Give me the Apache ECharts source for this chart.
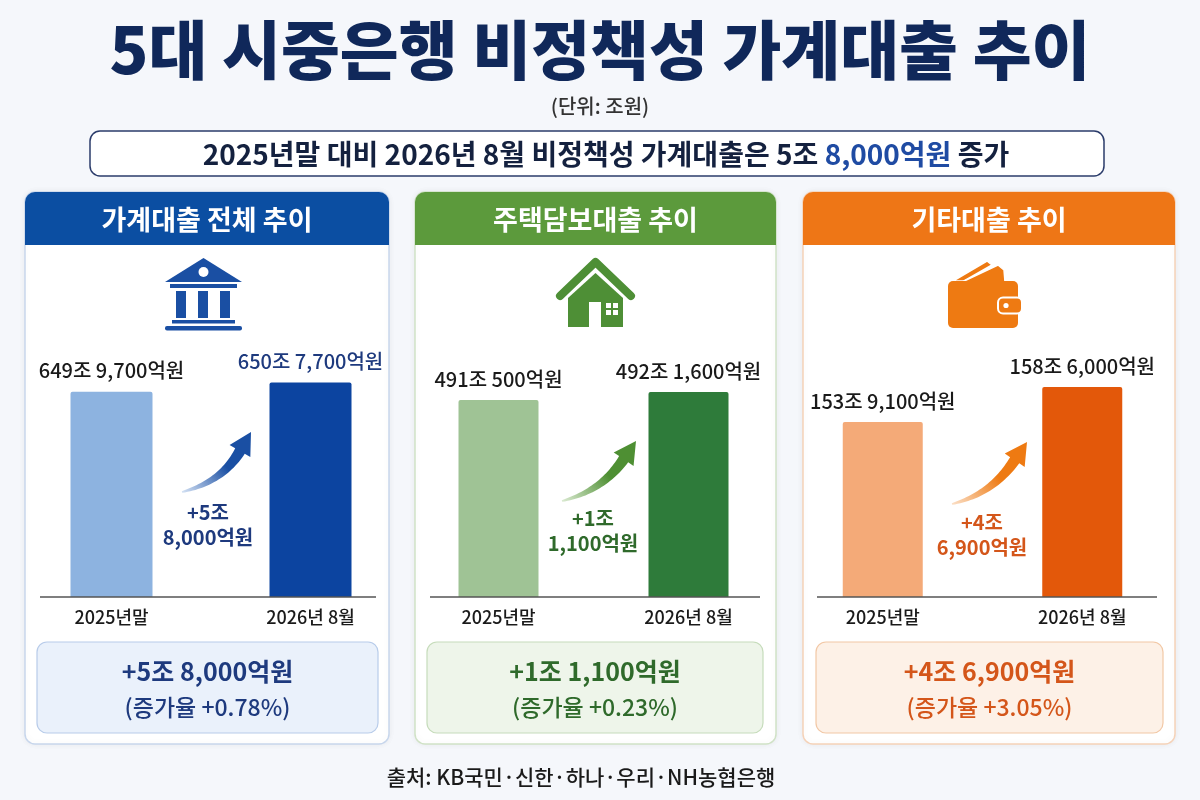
<!DOCTYPE html>
<html>
<head>
<meta charset="utf-8">
<script src="https://cdn.jsdelivr.net/npm/echarts@6/dist/echarts.min.js"></script>
<style>
html,body{margin:0;padding:0;background:#F5F7FB;}
#chart{width:1200px;height:800px;}
</style>
</head>
<body>
<div id="chart"></div>
<script>
// ---- data ----
const titleText = '5대 시중은행 비정책성 가계대출 추이';
const unitText = '(단위: 조원)';
const summaryPrefix = '2025년말 대비 2026년 8월 비정책성 가계대출은 5조 ';
const summaryHighlight = '8,000억원';
const summarySuffix = ' 증가';
const sourceText = '출처: KB국민·신한·하나·우리·NH농협은행';
const panelTitles = ['가계대출 전체 추이', '주택담보대출 추이', '기타대출 추이'];
const categories = ['2025년말', '2026년 8월'];
const prevValues = [649.97, 491.05, 153.91];
const currValues = [650.77, 492.16, 158.60];
const prevLabels = ['649조 9,700억원', '491조 500억원', '153조 9,100억원'];
const currLabels = ['650조 7,700억원', '492조 1,600억원', '158조 6,000억원'];
const changeLabels = ['+5조 8,000억원', '+1조 1,100억원', '+4조 6,900억원'];
const rateLabels = ['+0.78%', '+0.23%', '+3.05%'];

// ---- styles / layout ----
const FONT = '"Noto Sans CJK KR", "Noto Sans", sans-serif';
const themes = [
  {header:'#0B4EA2', bar1:'#8DB3E0', bar2:'#0C44A0', border:'#C7D6EC', boxFill:'#EAF1FB', boxBorder:'#B8CCEA', accent:'#1E3A7E', label2:'#1E3A7E', arrowFrom:'#D6E3F5', arrowTo:'#1A4FA3', icon:'#1A4FA3'},
  {header:'#5C9A3C', bar1:'#9FC395', bar2:'#2E7B3A', border:'#D0E2C6', boxFill:'#EEF5EA', boxBorder:'#C6DCBB', accent:'#2F6A2B', label2:'#1a1a1a', arrowFrom:'#DCEBD3', arrowTo:'#4E8F33', icon:'#4E8F36'},
  {header:'#EE7616', bar1:'#F4AA78', bar2:'#E3580A', border:'#F5D2B8', boxFill:'#FDF1E7', boxBorder:'#F2C8A6', accent:'#D4561A', label2:'#1a1a1a', arrowFrom:'#FBE0C8', arrowTo:'#EE7A12', icon:'#EE7A12'}
];
const panels = [
  {x:25, w:364, boxX:37, boxW:341, axisX1:40, axisX2:376, gridL:12, gridW:398, barW:82,
   arrow:{tail:[182,492], ctrl:[222,482], tip:[251,432]}, delta:[208,512], yMin:632, yMax:654.5},
  {x:415, w:361, boxX:427, boxW:336, axisX1:430, axisX2:760, gridL:403.5, gridW:380, barW:80,
   arrow:{tail:[562,501], ctrl:[602,491], tip:[636,441]}, delta:[593,518], yMin:463.7, yMax:499.4},
  {x:803, w:372, boxX:816, boxW:347, axisX1:817, axisX2:1157, gridL:783, gridW:399, barW:80,
   arrow:{tail:[952,504], ctrl:[992,494], tip:[1027,442]}, delta:[982,522], yMin:130.46, yMax:164.9}
];
const PANEL_TOP = 192, PANEL_H = 552, HEADER_H = 53, AXIS_Y = 597, GRID_TOP = 340;

function txt(x, y, text, font, fill, z) {
  return {type:'text', x:x, y:y, z:z||20, silent:true,
    style:{text:text, font:font, fill:fill, align:'center', verticalAlign:'middle'}};
}

function arrowPolygon(a) {
  const T = a.tail, C = a.ctrl, P = a.tip;
  const headLen = 22, headHalf = 12, w0 = 0.8, w1 = 5.5;
  let ux = P[0]-C[0], uy = P[1]-C[1];
  const ul = Math.hypot(ux, uy); ux/=ul; uy/=ul;
  const B = [P[0]-ux*headLen, P[1]-uy*headLen];
  const left = [], right = [];
  const N = 30;
  for (let i = 0; i <= N; i++) {
    const t = i/N;
    const px = (1-t)*(1-t)*T[0] + 2*(1-t)*t*C[0] + t*t*B[0];
    const py = (1-t)*(1-t)*T[1] + 2*(1-t)*t*C[1] + t*t*B[1];
    const dx = 2*(1-t)*(C[0]-T[0]) + 2*t*(B[0]-C[0]);
    const dy = 2*(1-t)*(C[1]-T[1]) + 2*t*(B[1]-C[1]);
    const dl = Math.hypot(dx, dy);
    const nx = -dy/dl, ny = dx/dl;
    const w = w0 + (w1-w0)*Math.pow(t, 0.8);
    left.push([px+nx*w, py+ny*w]);
    right.push([px-nx*w, py-ny*w]);
  }
  const nx = -uy, ny = ux;
  const pts = left.slice();
  pts.push([B[0]+nx*headHalf, B[1]+ny*headHalf]);
  pts.push([P[0], P[1]]);
  pts.push([B[0]-nx*headHalf, B[1]-ny*headHalf]);
  return pts.concat(right.reverse());
}

const graphics = [];
// title area
graphics.push(txt(600, 50, titleText, '900 64px ' + FONT, '#10285A'));
graphics.push(txt(600, 106, unitText, '500 20px ' + FONT, '#333333'));
graphics.push({type:'rect', z:1, silent:true, shape:{x:90, y:131, width:1014, height:45, r:10},
  style:{fill:'#FFFFFF', stroke:'#2B3C6B', lineWidth:1.5}});
graphics.push({type:'text', x:606, y:154, z:20, silent:true, style:{
  text:'{a|' + summaryPrefix + '}{b|' + summaryHighlight + '}{a|' + summarySuffix + '}',
  align:'center', verticalAlign:'middle',
  rich:{a:{font:'700 28px ' + FONT, fill:'#14213F'}, b:{font:'700 28px ' + FONT, fill:'#1F4BA3'}}
}});
graphics.push(txt(581, 777, sourceText, '500 21px ' + FONT, '#1a1a1a'));

panels.forEach(function (p, i) {
  const th = themes[i];
  const cx = p.x + p.w/2;
  graphics.push({type:'rect', z:0, silent:true,
    shape:{x:p.x, y:PANEL_TOP, width:p.w, height:PANEL_H, r:10},
    style:{fill:'#FFFFFF', stroke:th.border, lineWidth:1.5, shadowBlur:6, shadowColor:'rgba(0,0,0,0.06)'}});
  graphics.push({type:'rect', z:1, silent:true,
    shape:{x:p.x, y:PANEL_TOP, width:p.w, height:HEADER_H, r:[10,10,0,0]},
    style:{fill:th.header}});
  graphics.push(txt(cx, PANEL_TOP + HEADER_H/2 + 1, panelTitles[i], '700 27px ' + FONT, '#FFFFFF'));
  // axis baseline
  graphics.push({type:'line', z:5, silent:true,
    shape:{x1:p.axisX1, y1:AXIS_Y, x2:p.axisX2, y2:AXIS_Y},
    style:{stroke:'#555555', lineWidth:1.5}});
  // arrow
  graphics.push({type:'polygon', z:6, silent:true,
    shape:{points:arrowPolygon(p.arrow)},
    style:{fill:{type:'linear', x:0, y:1, x2:1, y2:0, colorStops:[
      {offset:0, color:th.arrowFrom}, {offset:0.55, color:th.arrowTo}, {offset:1, color:th.arrowTo}]}}});
  const parts = changeLabels[i].split(' ');
  graphics.push(txt(p.delta[0], p.delta[1], parts[0], '700 20px ' + FONT, th.accent));
  graphics.push(txt(p.delta[0], p.delta[1] + 25, parts[1], '700 20px ' + FONT, th.accent));
  // bottom box
  graphics.push({type:'rect', z:1, silent:true,
    shape:{x:p.boxX, y:642, width:p.boxW, height:91, r:10},
    style:{fill:th.boxFill, stroke:th.boxBorder, lineWidth:1.2}});
  const bcx = p.boxX + p.boxW/2;
  graphics.push(txt(bcx, 671, changeLabels[i], '700 25px ' + FONT, th.accent));
  graphics.push(txt(bcx, 707, '(증가율 ' + rateLabels[i] + ')', '500 23px ' + FONT, th.accent));
});

// ---- icons ----
(function () {
  const c = themes[0].icon;
  graphics.push({type:'polygon', z:3, silent:true, shape:{points:[[165,282],[203.5,258],[242,282]]}, style:{fill:c}});
  graphics.push({type:'circle', z:4, silent:true, shape:{cx:203.5, cy:272, r:5}, style:{fill:'#FFFFFF'}});
  graphics.push({type:'rect', z:3, silent:true, shape:{x:170, y:284, width:67, height:4}, style:{fill:c}});
  [176, 198, 220].forEach(function (x) {
    graphics.push({type:'rect', z:3, silent:true, shape:{x:x, y:291, width:10, height:27}, style:{fill:c}});
  });
  graphics.push({type:'rect', z:3, silent:true, shape:{x:172, y:320, width:63, height:3.5}, style:{fill:c}});
  graphics.push({type:'rect', z:3, silent:true, shape:{x:165, y:326, width:77, height:4.5, r:2}, style:{fill:c}});
})();
(function () {
  const c = themes[1].icon;
  graphics.push({type:'polyline', z:3, silent:true, shape:{points:[[560,296],[595.5,262],[631,296]]},
    style:{stroke:c, lineWidth:8, lineCap:'round', lineJoin:'round', fill:null}});
  graphics.push({type:'polygon', z:3, silent:true, shape:{points:[[568,327],[568,298],[595.5,273],[623,298],[623,327]]}, style:{fill:c}});
  graphics.push({type:'rect', z:4, silent:true, shape:{x:589, y:302, width:12, height:25}, style:{fill:'#FFFFFF'}});
  graphics.push({type:'rect', z:4, silent:true, shape:{x:606, y:303, width:12, height:12}, style:{fill:'#FFFFFF'}});
  graphics.push({type:'rect', z:5, silent:true, shape:{x:611, y:303, width:2, height:12}, style:{fill:c}});
  graphics.push({type:'rect', z:5, silent:true, shape:{x:606, y:308, width:12, height:2}, style:{fill:c}});
})();
(function () {
  const c = themes[2].icon;
  graphics.push({type:'polygon', z:3, silent:true, shape:{points:[[953,281],[987,261],[992,265],[964,281]]},
    style:{fill:c, stroke:'#FFFFFF', lineWidth:1.5, lineJoin:'round'}});
  graphics.push({type:'polygon', z:3, silent:true, shape:{points:[[962,282],[998,265],[1004,270],[1005,282]]},
    style:{fill:c, stroke:'#FFFFFF', lineWidth:1.5, lineJoin:'round'}});
  graphics.push({type:'rect', z:4, silent:true, shape:{x:948, y:281, width:70, height:47, r:5}, style:{fill:c}});
  graphics.push({type:'rect', z:5, silent:true, shape:{x:998, y:297.5, width:24, height:16, r:5},
    style:{fill:c, stroke:'#FFFFFF', lineWidth:2}});
  graphics.push({type:'circle', z:6, silent:true, shape:{cx:1006, cy:305.5, r:2.6}, style:{fill:'#FFFFFF'}});
})();

// ---- chart components ----
const grids = [], xAxes = [], yAxes = [], series = [];
panels.forEach(function (p, i) {
  const th = themes[i];
  grids.push({left:p.gridL, width:p.gridW, top:GRID_TOP, bottom:800 - AXIS_Y, containLabel:false});
  xAxes.push({type:'category', gridIndex:i, data:categories,
    axisLine:{show:false}, axisTick:{show:false},
    axisLabel:{margin:11, color:'#1a1a1a', fontFamily:FONT, fontSize:18, fontWeight:500}});
  yAxes.push({type:'value', gridIndex:i, min:p.yMin, max:p.yMax, show:false, splitLine:{show:false}});
  const textLabels = [prevLabels[i], currLabels[i]];
  const labelColors = ['#1a1a1a', th.label2];
  const barColors = [th.bar1, th.bar2];
  series.push({type:'bar', xAxisIndex:i, yAxisIndex:i, barWidth:p.barW, z:2,
    data:[prevValues[i], currValues[i]].map(function (v, k) {
      return {value:v, itemStyle:{color:barColors[k], borderRadius:[2,2,0,0]},
        label:{color:labelColors[k]}};
    }),
    label:{show:true, position:'top', distance:11, fontFamily:FONT, fontSize:20, fontWeight:500,
      formatter:function (prm) { return textLabels[prm.dataIndex]; }},
    silent:true, animation:false});
});

const chart = echarts.init(document.getElementById('chart'), null, {renderer:'canvas'});
chart.setOption({
  backgroundColor:'#F5F7FB',
  animation:false,
  grid:grids, xAxis:xAxes, yAxis:yAxes, series:series,
  graphic:{elements:graphics}
});
</script>
</body>
</html>
